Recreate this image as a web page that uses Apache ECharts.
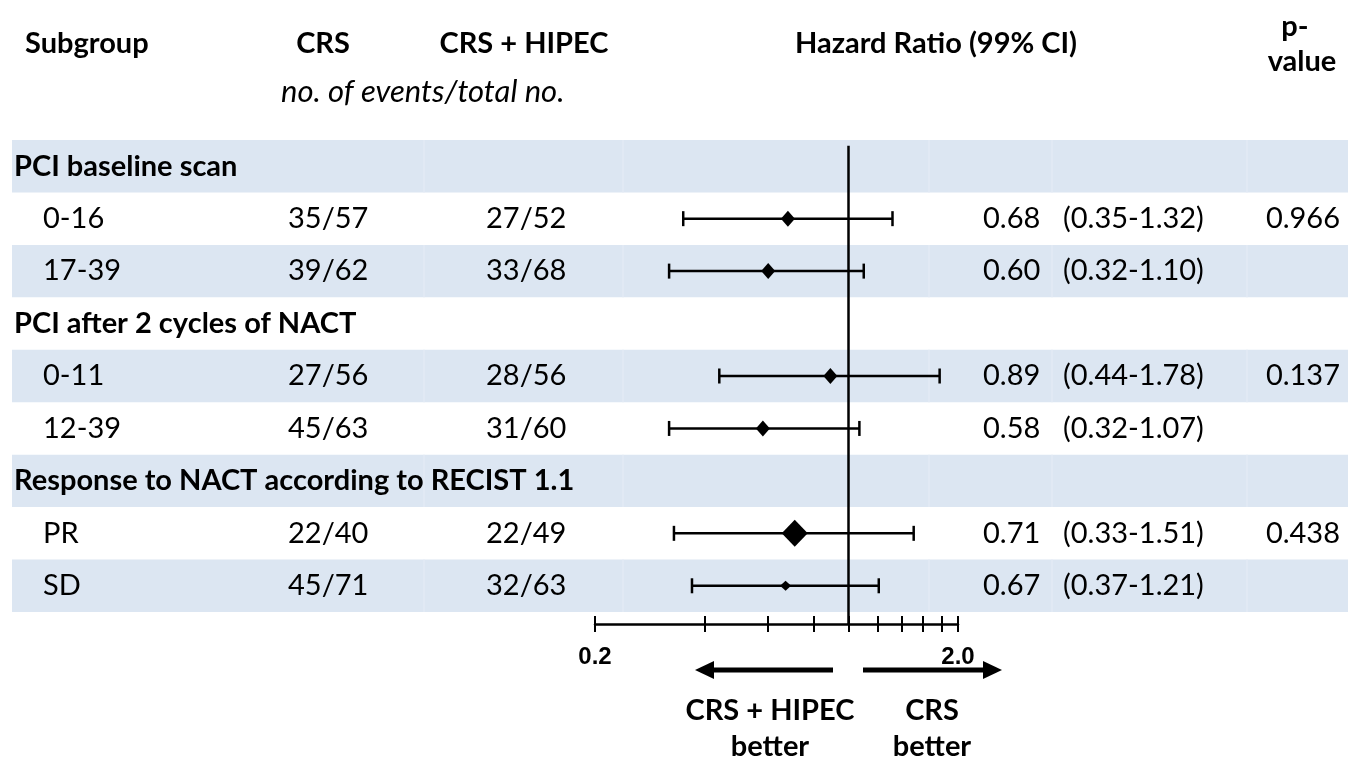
<!DOCTYPE html>
<html><head><meta charset="utf-8">
<script src="https://cdn.jsdelivr.net/npm/echarts@6/dist/echarts.min.js"></script>
<style>html,body{margin:0;padding:0;background:#fff}#c{width:1348px;height:765px}</style>
</head><body><div id="c"></div>
<script>
// ---------- data ----------
const rowLabels = ['PCI baseline scan', '0-16', '17-39', 'PCI after 2 cycles of NACT', '0-11', '12-39', 'Response to NACT according to RECIST 1.1', 'PR', 'SD'];
const isGroupRow = [true, false, false, true, false, false, true, false, false];
const crsEvents = ['', '35/57', '39/62', '', '27/56', '45/63', '', '22/40', '45/71'];
const hipecEvents = ['', '27/52', '33/68', '', '28/56', '31/60', '', '22/49', '32/63'];
const hazardRatio = [null, 0.68, 0.60, null, 0.89, 0.58, null, 0.71, 0.67];
const ciLower = [null, 0.35, 0.32, null, 0.44, 0.32, null, 0.33, 0.37];
const ciUpper = [null, 1.32, 1.10, null, 1.78, 1.07, null, 1.51, 1.21];
const pValues = ['', '0.966', '', '', '0.137', '', '', '0.438', ''];
const markerWeight = [0, 1, 1, 0, 1, 1, 0, 2, 0.6];
const tickValues = [0.2, 0.4, 0.6, 0.8, 1.0, 1.2, 1.4, 1.6, 1.8, 2.0];
const tickLabelValues = [0.2, 2.0];
const axisMin = 0.2, axisMax = 2.0, refValue = 1.0;

// ---------- layout ----------
const W = 1348, TOP = 140, BAND_BOTTOM = 612, AXIS_Y = 624, BAND_LEFT = 12;
const ROW_H = (BAND_BOTTOM - TOP) / rowLabels.length;
const Y_MAX = (AXIS_Y - TOP) / ROW_H;
const FOREST_LEFT = 595, FOREST_RIGHT = 958;
const COL = { group: 14, sub: 43, crs: 288, hipec: 486, hr: 983, ci: 1063, p: 1340 };
const SEPARATORS = [424, 623, 929, 1052, 1247];
const FONT = 'Lato, "Open Sans", sans-serif';
const FS = 29;
const BAND = '#dce6f2';
const lg = v => Math.log10(v);

const chart = echarts.init(document.getElementById('c'), null, { renderer: 'canvas' });

const bandData = rowLabels.map((_, i) => i).filter(i => i % 2 === 0).map(i => [i]);
const textData = rowLabels.map((_, i) => [i]);
const ciData = [], pointData = [];
hazardRatio.forEach((hr, i) => {
  if (hr == null) return;
  ciData.push([lg(ciLower[i]), lg(ciUpper[i]), i + 0.5]);
  const s = markerWeight[i] >= 2 ? [26, 27] : (markerWeight[i] < 1 ? [11, 10] : [14, 16]);
  pointData.push({ value: [lg(hr), i + 0.5], symbolSize: s });
});

function txt(x, y, s, opt) {
  return {
    type: 'text',
    style: Object.assign({ x, y, text: s, fill: '#000', font: `${FS}px ${FONT}`, textAlign: 'left', textVerticalAlign: 'middle' }, opt || {})
  };
}
const bold = { font: `bold ${FS}px ${FONT}` };
const boldC = { font: `bold ${FS}px ${FONT}`, textAlign: 'center' };

const option = {
  animation: false,
  backgroundColor: '#fff',
  grid: [
    { left: 0, top: TOP, width: W, height: AXIS_Y - TOP },
    { left: FOREST_LEFT, top: TOP, width: FOREST_RIGHT - FOREST_LEFT, height: AXIS_Y - TOP }
  ],
  xAxis: [
    { gridIndex: 0, type: 'value', min: 0, max: W, show: false },
    {
      gridIndex: 1, type: 'value', min: lg(axisMin), max: lg(axisMax), position: 'bottom',
      splitLine: { show: false },
      axisLine: { show: true, onZero: false, lineStyle: { color: '#000', width: 2.5 } },
      axisTick: { show: true, inside: false, length: 8, customValues: tickValues.map(lg), lineStyle: { color: '#000', width: 2 } },
      axisLabel: {
        show: true, customValues: tickLabelValues.map(lg), margin: 21,
        formatter: v => Math.pow(10, v).toFixed(1),
        color: '#000', fontWeight: 'bold', fontSize: 24, fontFamily: '"Liberation Sans", Arial, sans-serif'
      }
    },
    {
      // same scale, drawn on the same line, ticks pointing upward
      gridIndex: 1, type: 'value', min: lg(axisMin), max: lg(axisMax), position: 'top', offset: -(AXIS_Y - TOP),
      splitLine: { show: false },
      axisLine: { show: false, onZero: false },
      axisTick: { show: true, inside: false, length: 8, customValues: tickValues.map(lg), lineStyle: { color: '#000', width: 2 } },
      axisLabel: { show: false }
    }
  ],
  yAxis: [
    { gridIndex: 0, type: 'value', inverse: true, min: 0, max: Y_MAX, show: false },
    { gridIndex: 1, type: 'value', inverse: true, min: 0, max: Y_MAX, show: false }
  ],
  series: [
    {
      type: 'custom', xAxisIndex: 0, yAxisIndex: 0, z: 0, silent: true, data: bandData,
      renderItem: (params, api) => {
        const i = api.value(0);
        const a = api.coord([BAND_LEFT, i]), b = api.coord([W, i + 1]);
        const kids = [{ type: 'rect', shape: { x: a[0], y: a[1], width: b[0] - a[0], height: b[1] - a[1] }, style: { fill: BAND } }];
        SEPARATORS.forEach(sx => {
          const x = api.coord([sx, i])[0];
          kids.push({ type: 'line', shape: { x1: x, y1: a[1], x2: x, y2: b[1] }, style: { stroke: '#e3eaf4', lineWidth: 1.5 } });
        });
        return { type: 'group', children: kids };
      }
    },
    {
      type: 'custom', xAxisIndex: 0, yAxisIndex: 0, z: 5, silent: true, data: textData,
      renderItem: (params, api) => {
        const i = api.value(0);
        const y = api.coord([0, i + 0.5])[1];
        const kids = [];
        if (isGroupRow[i]) {
          kids.push(txt(api.coord([COL.group, 0])[0], y, rowLabels[i], bold));
        } else {
          kids.push(txt(api.coord([COL.sub, 0])[0], y, rowLabels[i]));
          kids.push(txt(api.coord([COL.crs, 0])[0], y, crsEvents[i]));
          kids.push(txt(api.coord([COL.hipec, 0])[0], y, hipecEvents[i]));
          kids.push(txt(api.coord([COL.hr, 0])[0], y, hazardRatio[i].toFixed(2)));
          kids.push(txt(api.coord([COL.ci, 0])[0], y, '(' + ciLower[i].toFixed(2) + '-' + ciUpper[i].toFixed(2) + ')'));
          if (pValues[i]) kids.push(txt(api.coord([COL.p, 0])[0], y, pValues[i], { textAlign: 'right' }));
        }
        return { type: 'group', children: kids };
      }
    },
    {
      type: 'custom', xAxisIndex: 1, yAxisIndex: 1, z: 6, silent: true, data: ciData,
      renderItem: (params, api) => {
        const a = api.coord([api.value(0), api.value(2)]);
        const b = api.coord([api.value(1), api.value(2)]);
        const st = { stroke: '#000', lineWidth: 2.5 };
        return {
          type: 'group', children: [
            { type: 'line', shape: { x1: a[0], y1: a[1], x2: b[0], y2: b[1] }, style: st },
            { type: 'line', shape: { x1: a[0], y1: a[1] - 7.5, x2: a[0], y2: a[1] + 7.5 }, style: st },
            { type: 'line', shape: { x1: b[0], y1: b[1] - 7.5, x2: b[0], y2: b[1] + 7.5 }, style: st }
          ]
        };
      }
    },
    {
      type: 'scatter', xAxisIndex: 1, yAxisIndex: 1, z: 7, silent: true, symbol: 'diamond',
      itemStyle: { color: '#000', opacity: 1 }, data: pointData,
      markLine: {
        silent: true, symbol: ['none', 'none'], label: { show: false },
        lineStyle: { color: '#000', width: 2.5, type: 'solid' },
        data: [[{ coord: [lg(refValue), 0.11] }, { coord: [lg(refValue), Y_MAX] }]]
      }
    }
  ],
  graphic: [
    txt(25, 44, 'Subgroup', bold),
    txt(323, 44, 'CRS', boldC),
    txt(524, 44, 'CRS + HIPEC', boldC),
    txt(936, 44, 'Hazard Ratio (99% CI)', boldC),
    txt(1295, 27, 'p-', boldC),
    txt(1302, 62, 'value', boldC),
    txt(281, 92, 'no. of events/total no.', { font: `italic 31px ${FONT}` }),
    txt(770, 711, 'CRS + HIPEC', boldC),
    txt(770, 747, 'better', boldC),
    txt(932, 711, 'CRS', boldC),
    txt(932, 747, 'better', boldC),
    { type: 'line', shape: { x1: 833, y1: 670, x2: 710, y2: 670 }, style: { stroke: '#000', lineWidth: 5 } },
    { type: 'polygon', shape: { points: [[695, 670], [714, 661], [714, 679]] }, style: { fill: '#000' } },
    { type: 'line', shape: { x1: 863, y1: 670, x2: 986, y2: 670 }, style: { stroke: '#000', lineWidth: 5 } },
    { type: 'polygon', shape: { points: [[1002, 670], [983, 661], [983, 679]] }, style: { fill: '#000' } }
  ]
};
chart.setOption(option);
</script>
</body></html>
